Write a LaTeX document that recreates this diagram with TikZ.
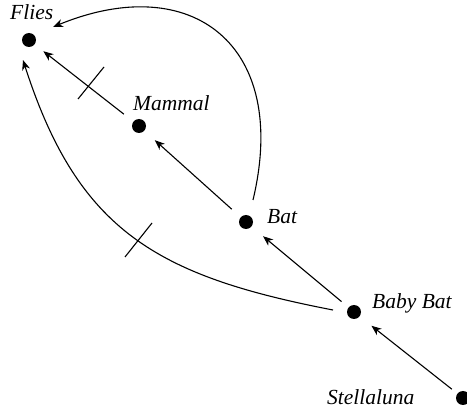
\documentclass[tikz,border=0pt]{standalone}
\usepackage{fontspec}
\setmainfont{Liberation Serif}
\usetikzlibrary{arrows.meta}
\begin{document}
\begin{tikzpicture}[x=1pt,y=-1pt,
  dot/.style={circle,fill=black,inner sep=0pt,minimum size=14pt},
  lbl/.style={inner sep=0pt,anchor=base west,font=\fontsize{21.5}{25}\selectfont\itshape},
  arr/.style={line width=1.1pt,-{Stealth[length=10pt,width=8pt,inset=3pt]}},
  tickmark/.style={line width=1.1pt}]
\useasboundingbox (0,0) rectangle (467,409);
% dots
\node[dot] (f) at (29,40) {};
\node[dot] (m) at (139,126) {};
\node[dot] (b) at (246,222) {};
\node[dot] (bb) at (354,312) {};
\node[dot] (s) at (463,398) {};
% labels
\node[lbl] (lf) at (10,20) {Flies};
\node[lbl] (lm) at (133,111) {Mammal};
\node[lbl] (lb) at (267,224) {Bat};
\node[lbl] (lbb) at (372,309) {Baby Bat};
\node[lbl] (ls) at (327,405) {Stellaluna};
% straight arrows
\draw[arr,shorten <=12pt,shorten >=11pt] (m) -- (f);
\draw[arr,shorten <=12pt,shorten >=14pt] (b) -- (m);
\draw[arr,shorten <=9pt,shorten >=15pt] (bb) -- (b);
\draw[arr,shorten <=7pt,shorten >=15pt] (s) -- (bb);
% curved arrows
\draw[arr] ([shift={(7,-22)}]b.center) .. controls (290,45) and (192,-30) .. ([shift={(24,-13)}]f.center);
\draw[arr] ([shift={(-21,-2)}]bb.center) .. controls (157,276) and (78,231) .. ([shift={(-6,20)}]f.center);
% tick marks
\draw[tickmark] (78,99) -- (104,67);
\draw[tickmark] (125,257) -- (152,223);
\end{tikzpicture}
\end{document}
